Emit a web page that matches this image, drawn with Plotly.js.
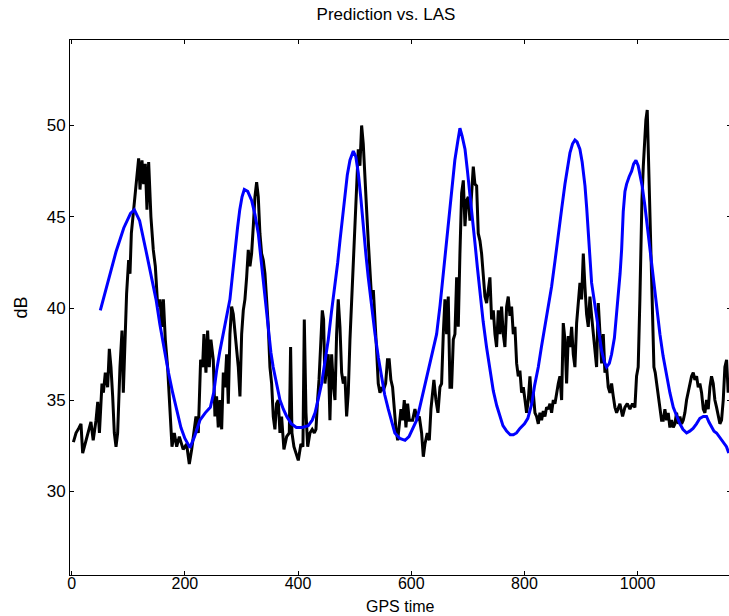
<!DOCTYPE html>
<html>
<head>
<meta charset="utf-8">
<script src="https://cdn.plot.ly/plotly-3.0.1.min.js"></script>
<style>
html, body { margin: 0; padding: 0; overflow: hidden; background: #fff; }
#chart { width: 731px; height: 616px; }
</style>
</head>
<body>
<div id="chart"></div>
<script>
// Measured LAS (black)
const lasT = [3,7.6,12.3,16.4,19.4,24,28,34,38,43,46,49,53.5,56,59.4,63.5,66.5,69.4,72.4,75.3,78.3,81.2,85.3,88.9,91.2,94.8,97,100.6,103,105.4,107.7,110.7,114.8,118.3,120.7,124.2,127.1,130.1,133,136,140,144.2,147.8,152,156,159.5,162,165.4,169.5,173.7,177.2,181.3,185.5,190.2,
197,203,207.8,212,216,219.6,223.7,227.8,231.3,233.7,237.2,240.2,243.1,246,250.2,253.1,256,259,262,265,267.9,270.8,273.8,276.7,279.6,282.6,285.5,288.5,291.4,294.4,297.3,300.3,303.2,306.1,309.1,312,315,317.9,320.9,323.8,326.8,329.7,332.6,335.6,338.5,341.5,344.4,347.4,350.3,353.3,356.2,359.1,362,365,368,370.9,375,379.8,384.5,386.8,389.2,392.7,
400.4,405,408.6,411,414,417,421,425,428.7,431.6,434.5,437,440.4,442.8,445.1,447.5,450.5,453.4,456.3,459.3,462.2,465.2,468.1,471,474,477,479.9,482.8,485.8,488.7,491.7,494.6,497.6,500.5,503.5,506.4,509.3,512.3,515.2,518.2,521.1,524,527,530,533,535.8,538.8,541.7,544.7,547.6,550.6,554.7,558,561,564,567,570,573,576,578.8,581.8,584.7,587.7,590.6,593.6,596.5,
602.4,606.5,610.7,614.2,618.3,621.3,624.2,628.3,631.9,634.8,637.7,640,643.6,647.2,650.7,653.6,656.6,659.5,662.5,665.4,668.4,671.3,674.3,677.2,680.2,683.1,686,689,692,694.9,697.8,700.8,703.7,706.7,709.6,712.5,715.5,718.4,721.4,724.3,727.3,730.2,733.2,736.1,739,742,745,747.9,750.8,753.8,756.7,759.6,762.6,765.5,768.5,771.4,774.4,777.3,780.3,783.2,786.2,789.1,792,795,798,
801,803.8,806.8,809.7,812.7,815.6,818.6,821.5,824.5,827.4,830.3,833.3,836.2,839.2,842.1,845.1,848,851,853.9,856.8,859.8,862.7,865.7,868.6,871.6,874.5,877.5,880.4,883.4,886.3,889.2,892.2,895.1,898.1,901,904,906.9,909.8,912.8,915.7,918.7,921.6,924.6,927.5,930.5,933.4,936.4,939.3,942.2,945.2,948.1,951.1,954,957,959.9,962.9,965.8,
968.7,973.4,977.5,981.7,986.4,991,995.2,998.1,1001,1004,1005.8,1007.6,1010,1012.3,1014.6,1017,1019.3,1021.7,1024,1026.4,1028.8,1031.1,1033.5,1036.4,1039.4,1042.3,1045.3,1048.2,1051.2,1054.1,1057,1060,1063,1065.9,1068.8,1071.8,1074.7,1077.7,1080.6,1083.5,1086.5,1089.4,1092.4,1095.3,1098.3,1101.2,1104.2,1107.1,1110,1113,1116,1118.9,1121.8,1124.8,1127.7,1130.6,1133.6,1136.5,1139.5,1142.4,1145.4,1148.3,1151.3,1154.2,1157.2,1160];
const lasV = [32.7,33.2,33.45,33.7,32.1,32.6,33.0,33.8,32.8,33.9,34.9,33.2,35.9,35.4,36.5,35.7,37.8,36.8,35.2,33.2,32.45,33.2,36.8,38.8,35.4,38.6,40.8,42.65,41.9,44.1,44.8,45.9,47.2,48.2,46.5,48.1,46.8,47.9,45.4,48.0,45.0,43.2,42.3,40.1,40.5,39.0,40.5,38.3,36.8,34.1,32.45,33.2,32.45,33.0,
32.3,32.6,31.5,32.3,33.4,34.1,33.2,37.2,36.8,38.6,36.5,38.8,36.8,38.3,37.2,34.1,35.2,33.5,35.0,33.4,36.5,35.7,37.5,34.8,38.6,40.1,39.7,38.6,37.5,36.8,35.2,38.6,39.9,40.5,41.7,43.2,42.3,43.0,44.5,46.1,46.9,46.1,44.1,43.0,42.65,41.9,40.5,39.0,36.8,35.9,34.1,33.4,34.8,35.0,33.2,34.1,32.3,33.0,33.2,37.9,33.2,32.45,
31.7,32.6,32.45,39.4,34.3,32.45,33.2,33.4,33.2,33.4,35.0,36.1,38.3,39.9,39.4,35.9,36.8,37.5,33.9,37.5,35.9,35.0,38.6,40.5,39.0,36.5,35.9,36.3,34.1,35.4,38.3,40.5,42.3,44.1,46.8,48.7,47.8,50.0,49.0,46.7,45.4,43.7,41.9,40.5,41.0,39.0,37.7,35.9,35.4,35.7,35.5,35.9,37.2,37.2,36.1,35.7,34.6,33.4,32.8,33.7,34.5,33.9,35.0,33.5,34.8,33.9,
33.9,34.5,33.9,34.1,33.2,31.9,32.6,33.2,32.8,34.5,35.4,36.1,35.0,34.3,35.7,35.9,38.6,40.5,38.6,40.65,35.7,35.7,38.3,38.6,41.7,39.0,43.0,46.3,47.0,44.5,45.9,46.1,44.8,46.3,47.75,46.8,46.7,44.1,43.7,43.0,41.7,40.65,40.3,41.0,41.7,39.4,39.9,38.6,37.9,39.9,38.6,40.1,38.6,37.9,40.1,40.65,39.6,40.1,38.6,39.0,37.0,36.3,36.6,35.4,35.7,
35.0,34.3,35.0,36.3,34.8,35.4,34.3,34.1,33.7,34.3,33.9,34.4,34.1,34.6,34.5,34.8,34.3,35.0,34.8,35.4,35.9,36.3,35.0,39.2,38.3,35.9,38.5,37.9,39.0,37.5,36.8,39.2,40.5,41.4,40.5,43.0,41.2,39.7,39.0,40.65,39.6,38.6,37.7,36.8,40.3,38.3,37.0,38.6,36.5,36.8,35.7,35.4,35.9,35.2,34.6,34.3,34.5,
34.8,34.1,34.6,34.8,34.5,34.8,34.6,36.3,36.8,40.5,43.7,45.9,47.75,49.2,50.3,50.85,48.1,46.1,43.7,40.5,36.8,36.5,35.9,35.4,34.6,33.9,33.9,34.5,33.9,34.3,33.5,33.9,33.5,33.7,34.3,33.7,34.1,33.7,33.9,34.3,35.0,35.5,35.9,36.3,36.5,36.1,36.3,35.7,35.9,35.4,34.5,34.3,35.0,34.5,35.7,36.3,35.9,35.0,34.6,34.1,33.7,33.9,35.0,36.8,37.2,35.4];

// Prediction (blue)
const predT = [50.6,65,78.3,92,104,110.7,120,131,140,149,156,163.7,171,178.4,186,193,200,209,217,226.6,236,245,251,256,262,268,274,279.6,284,288.5,293,297,301,305,311,318,324,329.7,334,338.5,343,347.4,352,356,362,368,374,380,388,397,407,418,425,430,436,441.6,447,453.4,459,465,470,474,479,483,487,491.7,497.6,502,506.4,511,515,520,524,530,536,542,547.6,553,559.4,565,571,580,589,596,602,609.5,615,621,627,633,639,644.8,651,656.6,662,668.4,673,677,682,686,690,695,699,703.7,708,712.5,717,721.4,727,733,739,745,751,756.7,762,768.5,775,780.3,786,792,800,806,813,818,824.5,830,836.2,842,848,854,859.8,866,871.6,876,880.4,885,889.2,893,898,902,907,910,912.8,916,918.7,923,927.5,932,936.4,941,945.2,950,954,959,962.8,966,969,971.7,974.6,977.6,980.5,985,989.4,993,997,1001,1004,1008,1012.9,1017,1021.7,1026,1030.5,1035,1039.4,1045,1051,1057,1063,1069,1074.7,1080,1086.5,1092,1098,1104,1110,1116,1121.8,1126,1130.6,1135,1139.5,1144,1148.3,1153,1157,1161];
const predV = [39.9,41.6,43.1,44.4,45.2,45.4,44.8,43.2,41.9,40.5,39.1,37.7,36.5,35.4,34.4,33.5,32.9,32.4,33.0,33.9,34.3,34.6,35.4,36.6,37.7,38.6,39.5,40.5,41.8,43.2,44.4,45.4,46.1,46.5,46.4,45.9,45.1,44.1,42.8,41.4,40.0,38.6,37.6,36.8,35.8,35.0,34.5,34.1,33.7,33.5,33.5,33.6,33.9,34.3,35.1,35.9,37.0,38.3,39.8,41.2,42.5,43.7,45.0,46.3,47.3,48.1,48.6,48.3,47.4,46.0,44.5,42.9,41.7,40.1,38.6,37.3,36.3,35.3,34.5,33.8,33.2,32.9,32.8,33.0,33.4,33.9,34.6,35.4,36.2,37.0,37.8,38.6,40.2,41.9,43.6,45.4,46.9,48.1,49.1,49.85,49.4,48.7,47.6,46.3,45.0,43.6,42.2,40.8,39.3,37.9,36.6,35.5,34.7,34.1,33.6,33.3,33.1,33.1,33.2,33.45,33.7,34.0,34.8,35.8,36.8,37.9,39.0,40.1,41.2,42.6,44.1,45.5,46.8,47.8,48.5,49.0,49.2,49.1,48.7,48.0,46.7,45.5,44.1,42.8,41.4,40.5,39.6,38.6,37.7,37.1,36.8,37.0,37.5,38.4,39.6,40.8,41.9,43.2,45.3,46.4,46.8,47.2,47.5,47.9,48.1,47.8,47.4,46.7,45.6,44.5,43.2,42.0,40.8,39.7,38.6,37.4,36.3,35.4,34.6,34.1,33.7,33.4,33.2,33.3,33.45,33.7,34.0,34.1,34.1,33.8,33.5,33.3,33.2,33.0,32.8,32.6,32.45,32.1];

const xTicks = [0, 200, 400, 600, 800, 1000];
const yTicks = [30, 35, 40, 45, 50];
const xLabel = 'GPS time';
const yLabel = 'dB';
const chartTitle = 'Prediction vs. LAS';

const FONT = 'Liberation Sans, Arial, Helvetica, sans-serif';

const traces = [
  { x: lasT, y: lasV, type: 'scatter', mode: 'lines', line: { color: '#000000', width: 3 }, hoverinfo: 'skip' },
  { x: predT, y: predV, type: 'scatter', mode: 'lines', line: { color: '#0000ff', width: 3 }, hoverinfo: 'skip' }
];

const axisCommon = {
  ticks: 'inside', ticklen: 4, tickwidth: 1, tickcolor: '#000',
  showline: true, linecolor: '#000', linewidth: 1, mirror: 'ticks',
  showgrid: false, zeroline: false,
  tickfont: { family: FONT, size: 17, color: '#000' }
};

const layout = {
  width: 731, height: 616,
  margin: { l: 70, r: 0, t: 40, b: 41, pad: 0 },
  paper_bgcolor: '#fff', plot_bgcolor: '#fff',
  showlegend: false,
  font: { family: FONT, size: 17, color: '#000' },
  title: { text: chartTitle, xref: 'container', x: 386 / 731, xanchor: 'center',
           yref: 'container', y: 1 - 14 / 616, yanchor: 'middle', font: { family: FONT, size: 17, color: '#000' } },
  xaxis: Object.assign({}, axisCommon, {
    range: [-3, 1165], tickmode: 'array', tickvals: xTicks, ticktext: xTicks.map(String),
    ticklabelstandoff: -6,
    tickfont: { family: FONT, size: 16, color: '#000' }
  }),
  yaxis: Object.assign({}, axisCommon, {
    range: [25.44, 54.67], tickmode: 'array', tickvals: yTicks, ticktext: yTicks.map(String),
    title: { text: yLabel, standoff: 14, font: { family: FONT, size: 18, color: '#000' } }
  }),
  annotations: [{
    text: xLabel, xref: 'paper', yref: 'paper', x: 0.5, y: -(606 - 575) / 535,
    xanchor: 'center', yanchor: 'middle', showarrow: false, borderpad: 0,
    font: { family: FONT, size: 16, color: '#000' }
  }]
};

Plotly.newPlot('chart', traces, layout, { staticPlot: true, displayModeBar: false });
</script>
</body>
</html>
